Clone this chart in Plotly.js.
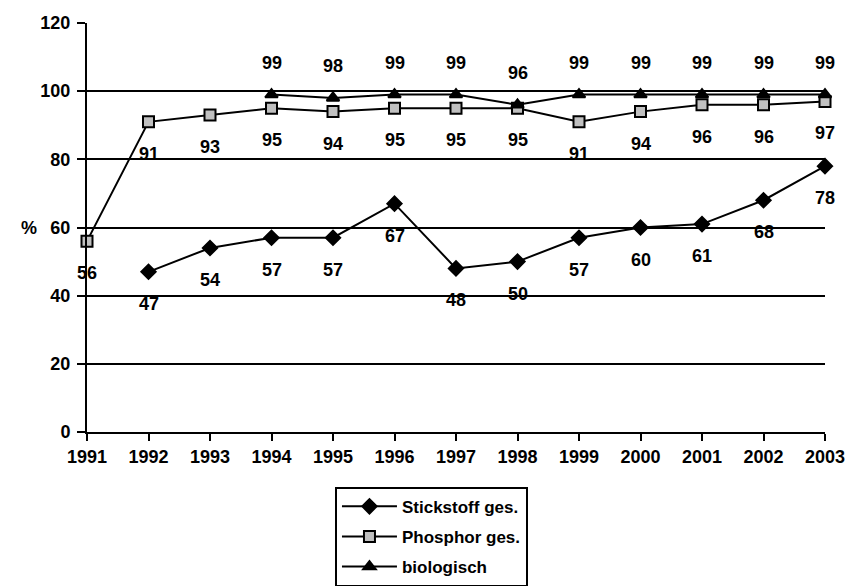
<!DOCTYPE html>
<html>
<head>
<meta charset="utf-8">
<script src="https://cdn.plot.ly/plotly-3.0.1.min.js"></script>
<style>html,body{margin:0;padding:0;background:#fff;}#chart{width:850px;height:586px;}</style>
</head>
<body>
<div id="chart"></div>
<script>
const years = [1991,1992,1993,1994,1995,1996,1997,1998,1999,2000,2001,2002,2003];
const stickstoff = [null,47,54,57,57,67,48,50,57,60,61,68,78];
const phosphor = [56,91,93,95,94,95,95,95,91,94,96,96,97];
const biologisch = [null,null,null,99,98,99,99,96,99,99,99,99,99];
const seriesNames = ['Stickstoff ges.','Phosphor ges.','biologisch'];
const yTicks = [0,20,40,60,80,100,120];

const FONT = {family:'"Liberation Sans", Arial, sans-serif', size:18, color:'#000', weight:700};

function mk(name, y, symbol, fill, size, group){
  return {x:years, y:y, name:name, type:'scatter', mode:'lines+markers', cliponaxis:false,
    legendgroup:group, connectgaps:false,
    line:{color:'#000', width:2},
    marker:{symbol:symbol, size:size, color:fill, line:{color:'#000', width:2}}};
}
const traces = [
  mk(seriesNames[0], stickstoff, 'diamond', '#000', 11, 'a'),
  mk(seriesNames[1], phosphor, 'square', '#c0c0c0', 11, 'b'),
  mk(seriesNames[2], biologisch, 'triangle-up', '#000', 11, 'c')
];

const annotations = [];
function addLabels(ys, shift){
  ys.forEach((v,i)=>{ if(v!==null) annotations.push({x:years[i], y:v, xref:'x', yref:'y', text:String(v),
    showarrow:false, yshift:shift, font:FONT}); });
}
addLabels(stickstoff, -32);
addLabels(phosphor, -32);
addLabels(biologisch, 32);
annotations.push({x:0, xref:'paper', y:60, yref:'y', text:'%', showarrow:false, xshift:-68, font:FONT});

const layout = {
  width:850, height:586,
  margin:{l:87, r:25, t:23, b:154, autoexpand:false},
  paper_bgcolor:'#fff', plot_bgcolor:'#fff',
  font:FONT,
  showlegend:true,
  legend:{x:0.336, y:-0.134, xanchor:'left', yanchor:'top', orientation:'v',
    bordercolor:'#000', borderwidth:2, bgcolor:'#fff', font:{...FONT, size:17},
    tracegroupgap:5, itemwidth:55},
  xaxis:{range:[1991,2003], tickmode:'array', tickvals:years, ticktext:years.map(String),
    showgrid:false, zeroline:false, showline:true, linecolor:'#000', linewidth:2,
    ticks:'outside', ticklen:7, tickwidth:2, tickcolor:'#000', tickfont:FONT, fixedrange:true},
  yaxis:{range:[0,120], tickmode:'array', tickvals:yTicks, ticktext:yTicks.map(String),
    showgrid:true, gridcolor:'#000', gridwidth:2, zeroline:false,
    showline:true, linecolor:'#000', linewidth:2, ticklabelstandoff:3,
    ticks:'outside', ticklen:8, tickwidth:2, tickcolor:'#000', tickfont:FONT, fixedrange:true},
  annotations:annotations
};
Plotly.newPlot('chart', traces, layout, {displayModeBar:false, staticPlot:true});
</script>
</body>
</html>
